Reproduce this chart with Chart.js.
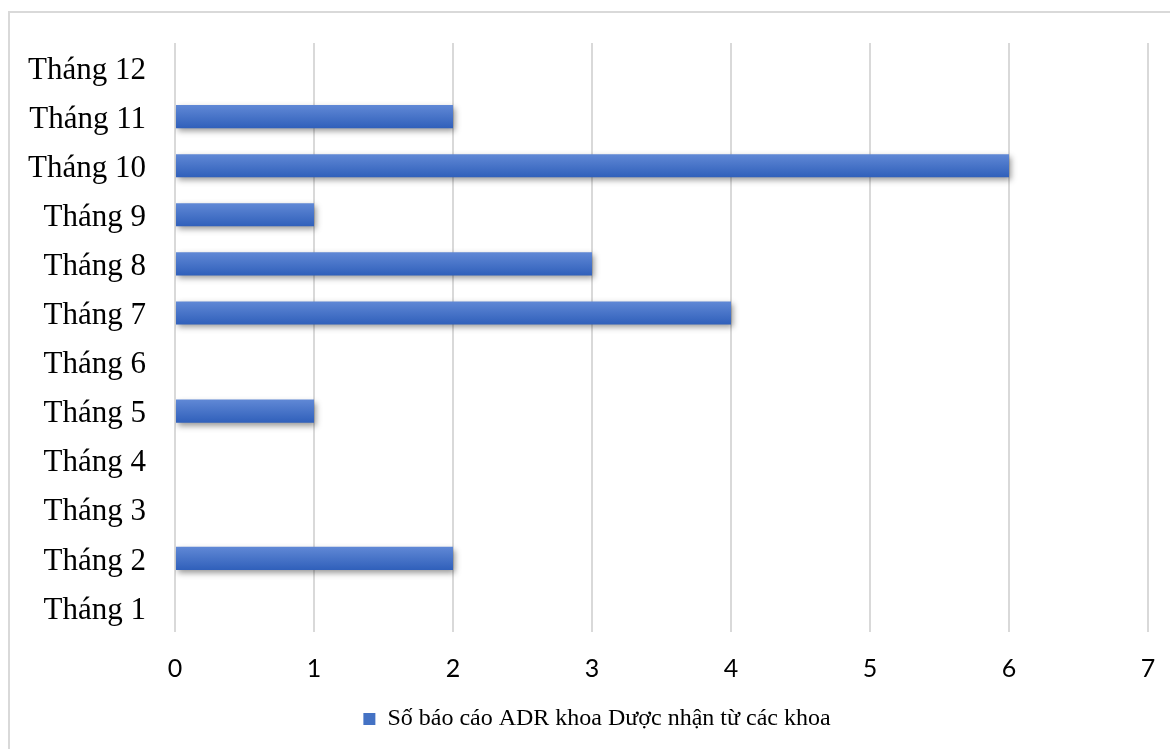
<!DOCTYPE html>
<html>
<head>
<meta charset="utf-8">
<script src="https://cdn.jsdelivr.net/npm/chart.js@4/dist/chart.umd.min.js"></script>
<style>
  html, body { margin: 0; padding: 0; background: #fff; overflow: hidden; }
  #frame {
    position: absolute; left: 8px; top: 11px; width: 1200px; height: 800px;
    border: 2px solid #d9d9d9; box-sizing: border-box;
  }
  #wrap { position: absolute; left: 0; top: 0; width: 1170px; height: 749px; }
</style>
</head>
<body>
<div id="frame"></div>
<div id="wrap"><canvas id="myChart"></canvas></div>
<script>
// months, bottom to top as in the picture
const months = ["Tháng 1", "Tháng 2", "Tháng 3", "Tháng 4", "Tháng 5", "Tháng 6",
  "Tháng 7", "Tháng 8", "Tháng 9", "Tháng 10", "Tháng 11", "Tháng 12"]
const reports = [0, 2, 0, 0, 1, 0, 4, 3, 1, 6, 2, 0]
const seriesName = "Số báo cáo ADR khoa Dược nhận từ các khoa"

// shadow under the bars, like the office chart
const barShadow = {
  id: "barShadow",
  beforeDatasetDraw(chart) {
    let ctx = chart.ctx
    ctx.save()
    ctx.shadowColor = "rgba(0,0,0,0.4)"
    ctx.shadowBlur = 6
    ctx.shadowOffsetX = 2
    ctx.shadowOffsetY = 3
  },
  afterDatasetDraw(chart) {
    chart.ctx.restore()
  }
}

// legend in the original sits a bit right of the canvas centre
const legendNudge = {
  id: "legendNudge",
  afterLayout(chart) {
    chart.legend.left = 46
  }
}

function barGradient(context) {
  let chart = context.chart
  let yScale = chart.scales.y
  if (!yScale || context.dataIndex === undefined) return "#4472c4"
  let y = yScale.getPixelForValue(context.dataIndex)
  let g = chart.ctx.createLinearGradient(0, y - 12, 0, y + 12)
  g.addColorStop(0, "#6189d6")
  g.addColorStop(1, "#2f5fba")
  return g
}

let ctx = document.getElementById("myChart").getContext("2d")
let chart = new Chart(ctx, {
  type: "bar",
  data: {
    labels: months,
    datasets: [{
      label: seriesName,
      data: reports,
      backgroundColor: barGradient,
      borderWidth: 0,
      barPercentage: 0.94,
      categoryPercentage: 0.5
    }]
  },
  options: {
    indexAxis: "y",
    responsive: true,
    maintainAspectRatio: false,
    animation: false,
    layout: { padding: { top: 43, right: 22, bottom: 8, left: 0 } },
    scales: {
      x: {
        min: 0,
        max: 7,
        afterFit: (scale) => { scale.paddingLeft = 0; scale.paddingRight = 0 },
        ticks: {
          stepSize: 1,
          color: "#000",
          padding: 22,
          font: { family: "Lato", size: 25 }
        },
        grid: { color: "#d9d9d9", lineWidth: 2, drawTicks: false },
        border: { display: false }
      },
      y: {
        reverse: true,
        afterFit: (scale) => {
          scale.width = 175
          scale.paddingTop = 0
          scale.paddingBottom = 0
        },
        ticks: {
          color: "#000",
          padding: 29,
          labelOffset: 3,
          font: { family: "Liberation Serif", size: 31 }
        },
        grid: { display: false, drawTicks: false },
        border: { display: false }
      }
    },
    plugins: {
      legend: {
        position: "bottom",
        labels: {
          color: "#000",
          boxWidth: 12,
          boxHeight: 12,
          padding: 1,
          font: { family: "Liberation Serif", size: 24 },
          generateLabels: (c) => [{
            text: seriesName,
            fillStyle: "#4472c4",
            strokeStyle: "#4472c4",
            lineWidth: 0,
            datasetIndex: 0
          }]
        }
      },
      tooltip: { enabled: false }
    }
  },
  plugins: [barShadow, legendNudge]
})
</script>
</body>
</html>
